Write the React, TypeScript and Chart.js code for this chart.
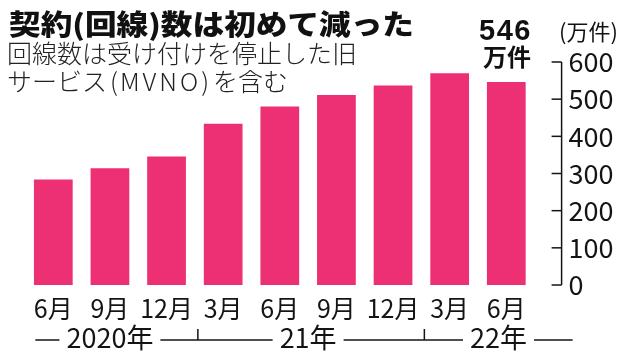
import React, { useEffect, useRef } from "react";
import { Chart, registerables } from "chart.js";

Chart.register(...registerables);

const monthLabels = ["6月", "9月", "12月", "3月", "6月", "9月", "12月", "3月", "6月"];
const subscribers = [284, 314, 346, 434, 480, 511, 537, 570, 546];
const yTickValues = [0, 100, 200, 300, 400, 500, 600];
const yearLabels = ["2020年", "21年", "22年"];
const yearStartIndex = [0, 3, 7];

const titleText = "契約(回線)数は初めて減った";
const noteLine1 = "回線数は受け付けを停止した旧";
const noteLine2Parts = ["サービス", "(", "MVNO", ")", "を含む"];
const latestValue = "546";
const latestUnit = "万件";
const unitLabel = "(万件)";

const BAR_COLOR = "#ED2F73";
const INK = "#141414";
const NARROW = '"Liberation Sans Narrow", "Noto Sans CJK JP", sans-serif';

const decorPlugin = {
  id: "decor",
  afterDraw(chart: any) {
    const { ctx, chartArea, scales } = chart;
    const xs = scales.x;
    const ys = scales.y;
    ctx.save();
    ctx.strokeStyle = INK;
    ctx.lineWidth = 1.5;
    // y axis line with inward ticks
    const axisX = chartArea.right + 27;
    const yTop = ys.getPixelForValue(yTickValues[yTickValues.length - 1]);
    const yBot = ys.getPixelForValue(0);
    ctx.beginPath();
    ctx.moveTo(axisX, yTop);
    ctx.lineTo(axisX, yBot);
    ctx.stroke();
    yTickValues.forEach((v) => {
      const py = ys.getPixelForValue(v);
      ctx.beginPath();
      ctx.moveTo(axisX - 10, py);
      ctx.lineTo(axisX, py);
      ctx.stroke();
    });

    // year row
    const lineY = chartArea.bottom + 55;
    ctx.font = `27px ${NARROW}`;
    ctx.fillStyle = INK;
    ctx.textAlign = "center";
    ctx.textBaseline = "alphabetic";
    const lineStart = xs.getPixelForValue(0) - 18;
    const lineEnd = axisX + 11;
    const seps = yearStartIndex.slice(1).map(
      (i) => (xs.getPixelForValue(i - 1) + xs.getPixelForValue(i)) / 2 + 3
    );
    const bounds = [lineStart, ...seps, lineEnd];
    const gap = 7;
    let prevEnd = lineStart;
    yearLabels.forEach((label, k) => {
      const first = yearStartIndex[k];
      const last = k + 1 < yearStartIndex.length ? yearStartIndex[k + 1] - 1 : monthLabels.length - 1;
      let cx = (xs.getPixelForValue(first) + xs.getPixelForValue(last)) / 2;
      if (k === yearLabels.length - 1) cx = (bounds[k] + bounds[k + 1]) / 2;
      const w = ctx.measureText(label).width;
      ctx.fillText(label, cx, lineY + 8);
      ctx.beginPath();
      ctx.moveTo(prevEnd, lineY);
      ctx.lineTo(cx - w / 2 - gap, lineY);
      ctx.stroke();
      prevEnd = cx + w / 2 + gap;
    });
    ctx.beginPath();
    ctx.moveTo(prevEnd, lineY);
    ctx.lineTo(lineEnd, lineY);
    ctx.stroke();
    seps.forEach((sx) => {
      ctx.beginPath();
      ctx.moveTo(sx, lineY);
      ctx.lineTo(sx, lineY - 11);
      ctx.stroke();
    });
    ctx.restore();
  },
};

function BarChart() {
  const ref = useRef<HTMLCanvasElement | null>(null);
  useEffect(() => {
    if (!ref.current) return;
    const chart = new Chart(ref.current, {
      type: "bar",
      data: {
        labels: monthLabels,
        datasets: [
          {
            data: subscribers,
            backgroundColor: BAR_COLOR,
            borderWidth: 0,
            barPercentage: 0.684,
            categoryPercentage: 1,
          },
        ],
      },
      options: {
        responsive: false,
        animation: false,
        events: [],
        layout: { padding: { left: 25, top: 62, right: 0, bottom: 0 } },
        plugins: { legend: { display: false }, tooltip: { enabled: false } },
        scales: {
          x: {
            offset: true,
            grid: { display: false, drawTicks: false },
            border: { display: false },
            ticks: {
              color: INK,
              font: { family: NARROW, size: 25 },
              padding: 8,
              maxRotation: 0,
              autoSkip: false,
            },
            afterFit: (s: any) => {
              s.height = 67;
            },
          },
          y: {
            position: "right",
            min: 0,
            max: 600,
            grid: { display: false, drawTicks: false },
            border: { display: false },
            ticks: {
              stepSize: 100,
              color: INK,
              font: { family: NARROW, size: 27 },
              padding: 34,
            },
            afterFit: (s: any) => {
              s.width = 105.4;
            },
          },
        },
      },
      plugins: [decorPlugin],
    });
    return () => chart.destroy();
  }, []);
  return <canvas ref={ref} width={640} height={352} style={{ position: "absolute", left: 0, top: 0 }} />;
}

export default function App() {
  const base: React.CSSProperties = {
    position: "absolute",
    whiteSpace: "nowrap",
    lineHeight: 1,
    margin: 0,
  };
  const note: React.CSSProperties = {
    ...base,
    left: 7,
    fontFamily: '"Noto Sans CJK JP", sans-serif',
    fontWeight: 300,
    fontSize: 25,
    color: "#222",
  };
  return (
    <div style={{ position: "fixed", left: 0, top: 0, width: 640, height: 352, background: "#fff", overflow: "hidden" }}>
      <BarChart />
      <div
        style={{
          ...base,
          left: 9,
          top: 9,
          fontFamily: '"Noto Sans CJK JP", sans-serif',
          fontWeight: 900,
          fontSize: 28,
          color: "#111",
          transform: "scaleX(1.13)",
          transformOrigin: "left top",
        }}
      >
        {titleText}
      </div>
      <div style={{ ...note, top: 40 }}>{noteLine1}</div>
      <div style={{ ...note, top: 68 }}>
        <span>{noteLine2Parts[0]}</span>
        <span style={{ margin: "0 2px 0 3px" }}>{noteLine2Parts[1]}</span>
        <span style={{ letterSpacing: 3 }}>{noteLine2Parts[2]}</span>
        <span style={{ margin: "0 4px 0 0" }}>{noteLine2Parts[3]}</span>
        <span>{noteLine2Parts[4]}</span>
      </div>
      <div style={{ ...base, left: 479, top: 16, fontFamily: '"Liberation Sans", sans-serif', fontWeight: 700, fontSize: 29, letterSpacing: 1.5, color: "#111" }}>
        {latestValue}
      </div>
      <div style={{ ...base, left: 483, top: 44, fontFamily: '"Noto Sans CJK JP", sans-serif', fontWeight: 700, fontSize: 24, color: "#111" }}>
        {latestUnit}
      </div>
      <div style={{ ...base, left: 559, top: 19, fontFamily: '"Noto Sans CJK JP", sans-serif', fontWeight: 400, fontSize: 22, color: "#111" }}>
        {unitLabel}
      </div>
    </div>
  );
}
